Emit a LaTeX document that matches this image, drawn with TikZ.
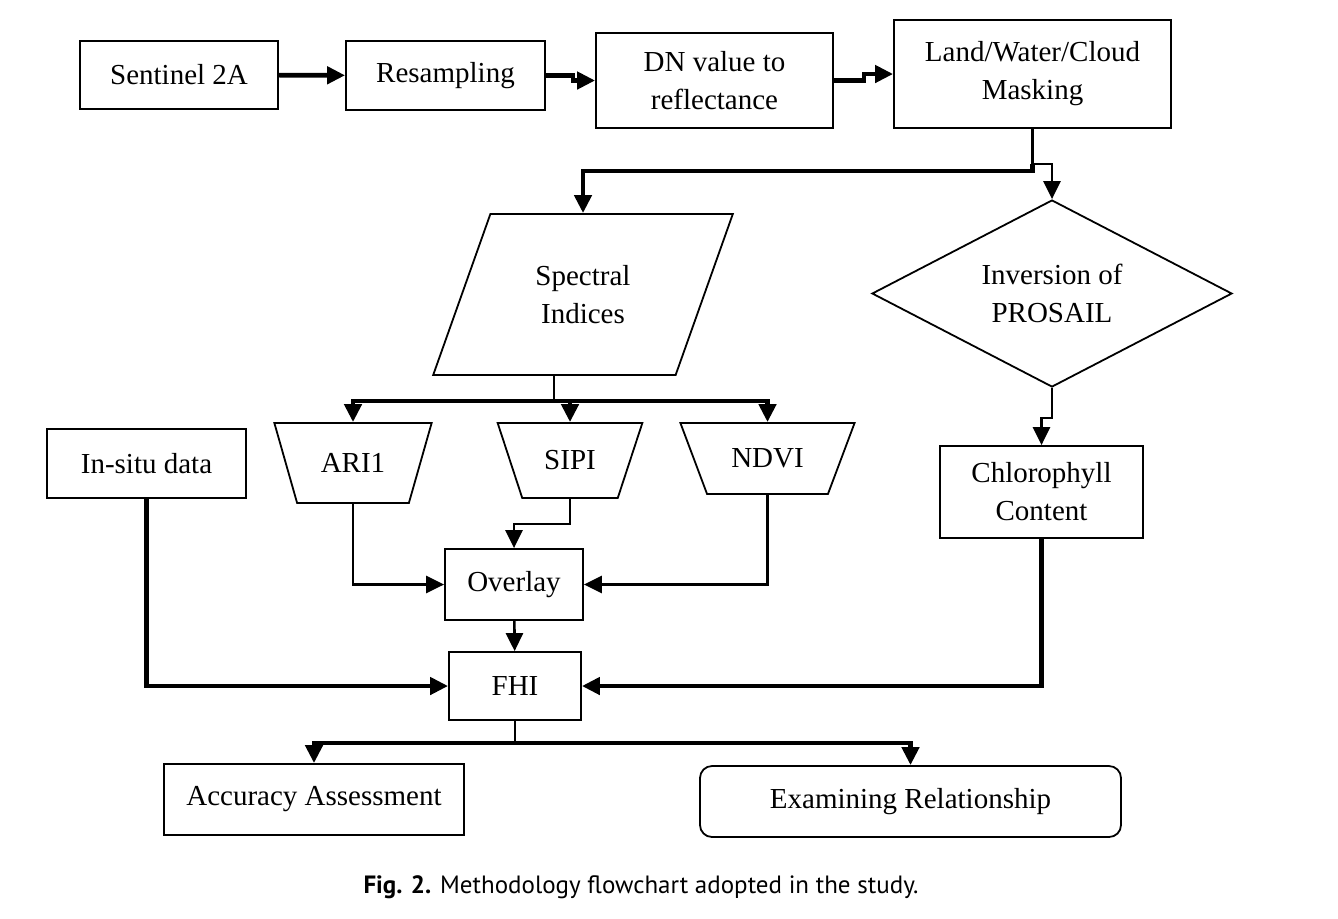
\documentclass[tikz,border=0pt]{standalone}
\usepackage{fontspec}
\setmainfont{Liberation Serif}
\newfontfamily\capfont{PT Sans}
\usetikzlibrary{shapes.geometric,arrows.meta}
\tikzset{
  box/.style={draw, line width=0.9pt, align=center, font=\fontsize{14.5}{19}\selectfont},
  trap/.style={box, trapezium, trapezium stretches=true, trapezium left angle=#1, trapezium right angle=#1},
  thk/.style={line width=2.3pt, -{Triangle[length=9pt,width=8.5pt]}},
  thn/.style={line width=1.3pt, -{Triangle[length=9pt,width=8.5pt]}},
}
\begin{document}
\begin{tikzpicture}[x=0.5pt,y=-0.5pt]
            \useasboundingbox (0,0) rectangle (1338,918);
            % top row
            \node[box, minimum width=99pt, minimum height=34pt] (sentinel) at (179,75) {Sentinel 2A};
            \node[box, minimum width=99.5pt, minimum height=34.5pt] (resamp) at (445.5,75.5) {Resampling};
            \node[box, minimum width=118.5pt, minimum height=47.5pt] (dn) at (714.5,80.5) {DN value to\\reflectance};
            \node[box, minimum width=138.5pt, minimum height=54pt] (mask) at (1032.5,74) {Land/Water/Cloud\\Masking};
            % middle
            \node[box, trapezium, trapezium stretches=true, trapezium left angle=65, trapezium right angle=115,
                  minimum width=150pt, minimum height=80.5pt] (spectral) at (583,294.5) {Spectral\\Indices};
            \node[box, diamond, aspect=2, minimum width=180pt, minimum height=93.5pt] (prosail) at (1052,293.5) {Inversion of\\PROSAIL};
            \node[trap=116, minimum width=79pt, minimum height=40pt] (ari) at (353,463) {ARI1};
            \node[trap=117, minimum width=72.5pt, minimum height=37.5pt] (sipi) at (570,460.5) {SIPI};
            \node[trap=120, minimum width=87.5pt, minimum height=35.5pt] (ndvi) at (767.5,458.5) {NDVI};
            \node[box, minimum width=99.5pt, minimum height=34.5pt] (insitu) at (146.5,463.5) {In-situ data};
            \node[box, minimum width=101.5pt, minimum height=46pt] (chl) at (1041.5,492) {Chlorophyll\\Content};
            \node[box, minimum width=69pt, minimum height=35.5pt] (overlay) at (514,584.5) {Overlay};
            \node[box, minimum width=66pt, minimum height=34pt] (fhi) at (515,686) {FHI};
            % bottom row
            \node[box, minimum width=150pt, minimum height=35.5pt] (acc) at (314,799.5) {Accuracy Assessment};
            \node[box, rounded corners=6pt, minimum width=210.5pt, minimum height=35.5pt] (exam) at (910.5,801.5) {Examining Relationship};
            \node[font=\capfont\fontsize{12.5}{15}\selectfont] (caption) at (641,887) {\textbf{Fig. 2.} Methodology flowchart adopted in the study.};

            \draw[thk] (sentinel) -- (resamp);
            \draw[thk] (resamp.east) -- ++(27,0) |- (dn.west);
            \draw[thk] (dn.east) -- ++(30,0) |- (mask.west);
            \draw[thn,-] (mask.south) -- ++(0,35) coordinate (split);
            \draw[thk] (split) -- ++(0,7) -| (spectral.north);
            \draw[thn] (split) -| (prosail.north);
            \draw[thn] (prosail.south) -- ++(0,30) -| (chl.north);
            \draw[thn,-] (spectral.bottom side) -- ++(0,25) coordinate (fork);
            \draw[thk] (fork) -| (ari.north);
            \draw[thk] (fork) -| (ndvi.north);
            \draw[thk] (fork) -| (sipi.north);
            \draw[thn] (ari.south) |- (overlay.west);
            \draw[thn] (ndvi.south) |- (overlay.east);
            \draw[thn] (sipi.south) -- ++(0,25) -| (overlay.north);
            \draw[thn] (overlay) -- (fhi);
            \draw[thk] (insitu.south) |- (fhi.west);
            \draw[thk] (chl.south) |- (fhi.east);
            \draw[thn,-] (fhi.south) -- ++(0,22) coordinate (out);
            \draw[thk] (out) -| (acc.north);
            \draw[thk] (out) -| (exam.north);

        \end{tikzpicture}
\end{document}
